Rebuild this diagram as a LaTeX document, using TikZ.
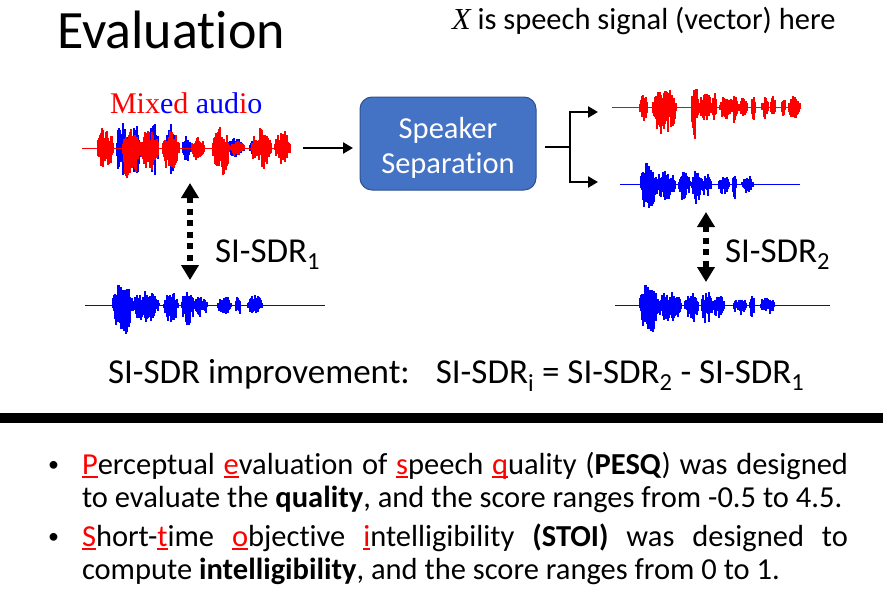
\documentclass[tikz,border=0pt]{standalone}
\usepackage{fontspec}
\setmainfont{Carlito}[Ligatures=NoCommon]
\newfontfamily\serif{Liberation Serif}
\usetikzlibrary{arrows.meta,calc}

\definecolor{boxblue}{RGB}{68,114,196}
\definecolor{boxline}{RGB}{47,82,143}

% red first letter with a short underline
\newcommand{\redu}[1]{\textcolor{red}{\setbox0\hbox{#1}\rlap{\rule[-4pt]{\wd0}{1.6pt}}\box0}}

% speech wave: colour, node, length, seed, bursts (from/to/up/down)
\newcommand{\speech}[5]{%
  \pgfmathsetseed{#4}
  \edef\burstlist{#5}
  \begin{scope}[shift={(#2.west)}]
    \draw[#1, line width=0.8pt] (0,0) -- (#3,0);
    \foreach \ba/\bb/\hi/\lo in \burstlist {
      \pgfmathtruncatemacro{\xa}{\ba*#3}
      \pgfmathtruncatemacro{\xb}{\bb*#3}
      \foreach \x in {\xa,...,\xb} {
        \pgfmathsetmacro{\env}{pow(sin(180*(\x-\xa+0.5)/(\xb-\xa+1)),0.45)}
        \draw[#1, line width=1.3pt] (\x,{-\hi*\env*(0.3+0.7*rnd)}) -- (\x,{\lo*\env*(0.3+0.7*rnd)});
      }
    }
  \end{scope}
}

\newcommand{\cleanbursts}{0.12/0.20/23/31, 0.20/0.31/14/18, 0.33/0.39/13/18, 0.405/0.455/15/20, 0.46/0.51/11/13, 0.555/0.61/9/11, 0.63/0.65/12/16, 0.68/0.74/10/10}

\begin{document}
\begin{tikzpicture}[x=1pt, y=-1pt,
  every node/.style={inner sep=0pt, outer sep=0pt},
  big/.style={font=\fontsize{35}{42}\selectfont, anchor=base west},
  txt/.style={font=\fontsize{30.5}{36}\selectfont, anchor=base west},
  wave/.style={minimum height=0pt},
  sepbox/.style={draw=boxline, fill=boxblue, rounded corners=12pt, line width=1pt,
    minimum width=176pt, minimum height=93pt, align=center, text=white,
    font=\fontsize{30.5}{35}\selectfont},
  arr/.style={line width=2.5pt, -{Triangle[length=10pt,width=11pt]}},
  branch/.style={line width=2.5pt},
  darr/.style={line width=6pt, dash pattern=on 6pt off 5.5pt,
    {Triangle[length=15pt,width=17pt]}-{Triangle[length=15pt,width=17pt]}}]

\fill[white] (0,0) rectangle (883,597);
\useasboundingbox (0,0) rectangle (883,597);

% headings
\node[anchor=base west, font=\fontsize{54}{62}\selectfont] (title) at (57,48) {Evaluation};
\node[anchor=base west, font=\fontsize{30.5}{36}\selectfont] (note) at (452,29) {{\serif\itshape X} is speech signal (vector) here};

% waves
\node[wave, minimum width=208pt] (mix) at (186,148) {};
\node[wave, minimum width=188pt] (spk1) at (706,107) {};
\node[wave, minimum width=180pt] (est2) at (710,184) {};
\node[wave, minimum width=240pt] (ref1) at (205,305) {};
\node[wave, minimum width=215pt] (ref2) at (722.5,305) {};

\node[anchor=base west, font=\serif\fontsize{30}{36}\selectfont] (mixlbl) at (110,113)
  {\textcolor{red}{Mix}\textcolor{blue}{e}\textcolor{red}{d} \textcolor{blue}{aud}\textcolor{red}{i}\textcolor{blue}{o}};

\speech{blue}{mix}{208}{7}{0.17/0.22/30/32, 0.245/0.28/24/28, 0.33/0.37/28/36, 0.41/0.45/32/28, 0.49/0.52/15/15, 0.70/0.78/10/9, 0.81/0.86/9/9}
\speech{red}{mix}{208}{11}{0.08/0.15/24/28, 0.2/0.27/22/39, 0.28/0.37/20/24, 0.39/0.47/18/26, 0.53/0.59/13/15, 0.63/0.71/22/28, 0.72/0.78/9/9, 0.82/0.91/20/22, 0.93/1.0/18/16}
\speech{red}{spk1}{188}{3}{0.15/0.19/13/15, 0.22/0.345/19/29, 0.43/0.46/25/33, 0.47/0.53/16/18, 0.54/0.555/15/15, 0.575/0.645/12/13, 0.645/0.665/17/23, 0.68/0.72/11/11, 0.745/0.765/13/15, 0.80/0.83/11/13, 0.85/0.87/12/12, 0.905/0.925/13/13, 0.945/1.0/13/13}
\speech{blue}{est2}{180}{5}{\cleanbursts}
\speech{blue}{ref1}{240}{5}{\cleanbursts}
\speech{blue}{ref2}{215}{5}{\cleanbursts}

% separation box and arrows
\node[sepbox] (sep) at (448,143.5) {\rule{0pt}{29pt}Speaker\\Separation};
\coordinate (fork) at (570,147);

\draw[arr] ($(mix.east)+(13,0)$) -- ($(mix.east -| sep.west)+(-7,0)$);
\draw[branch] ($(fork -| sep.east)+(9,0)$) -- (fork);
\draw[arr] (fork) |- ($(spk1.west)+(-14,5)$);
\draw[arr] (fork) |- ($(est2.west)+(-22,-2)$);

\draw[darr] ($(mix.center)+(4,35)$) -- ($(ref1.center)+(-15,-25)$);
\draw[darr] ($(est2.center)+(-4,28)$) -- ($(ref2.center)+(-16.5,-23)$);

\node[big] (sdr1) at (215,262) {SI-SDR\textsubscript{1}};
\node[big] (sdr2) at (725,262) {SI-SDR\textsubscript{2}};
\node[big] (impr) at (108,383) {SI-SDR improvement:\hspace{26pt}SI-SDR\textsubscript{i} = SI-SDR\textsubscript{2} - SI-SDR\textsubscript{1}};

\draw[line width=10pt] (0,418) -- (883,418);

% bullets
\node[anchor=base west, font=\fontsize{22}{26}\selectfont] (bul1) at (48,471) {\textbullet};
\node[anchor=base west, font=\fontsize{22}{26}\selectfont] (bul2) at (48,543) {\textbullet};
\node[txt] (b1a) at (82,474) {\makebox[766pt][s]{\redu{P}erceptual \redu{e}valuation of \redu{s}peech \redu{q}uality (\textbf{PESQ}) was designed}};
\node[txt] (b1b) at (82,507) {to evaluate the \textbf{quality}, and the score ranges from -0.5 to 4.5.};
\node[txt] (b2a) at (82,546) {\makebox[766pt][s]{\redu{S}hort-\redu{t}ime \redu{o}bjective \redu{i}ntelligibility \textbf{(STOI)} was designed to}};
\node[txt] (b2b) at (82,579) {compute \textbf{intelligibility}, and the score ranges from 0 to 1.};
\end{tikzpicture}
\end{document}
